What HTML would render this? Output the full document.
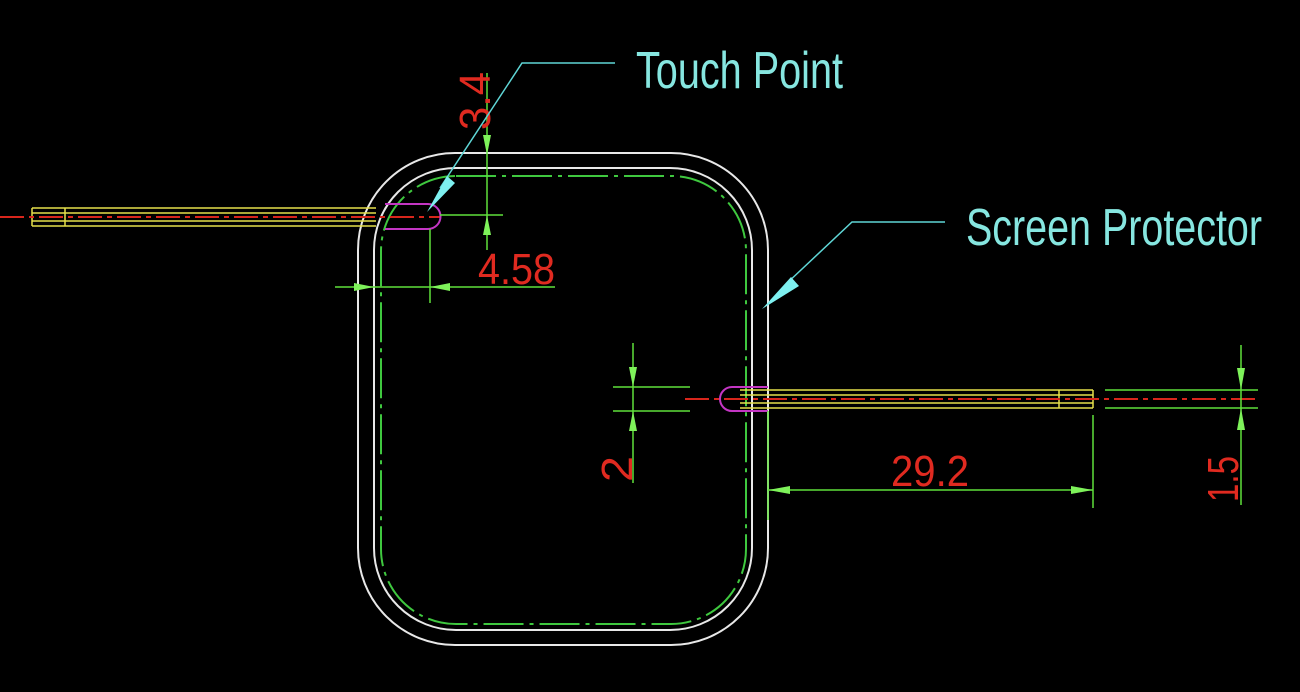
<!DOCTYPE html>
<html><head><style>html,body{margin:0;padding:0;background:#000;}svg{display:block}</style></head>
<body>
<svg width="1300" height="692" viewBox="0 0 1300 692" xmlns="http://www.w3.org/2000/svg">
<rect width="1300" height="692" fill="#000"/>
<!-- watch body -->
<rect x="358" y="153" width="410" height="492" rx="97" ry="97" fill="none" stroke="#e8e8e8" stroke-width="2"/>
<rect x="374" y="168" width="378" height="462" rx="82" ry="82" fill="none" stroke="#e8e8e8" stroke-width="2"/>
<rect x="381" y="176" width="365" height="448" rx="75" ry="75" fill="none" stroke="#3fc83f" stroke-width="2" stroke-dasharray="40 6 4 6"/>
<!-- left strap -->
<g stroke="#e6e04a" stroke-width="1.5" fill="none">
<line x1="32" y1="208" x2="376" y2="208"/><line x1="32" y1="213" x2="376" y2="213"/>
<line x1="32" y1="221" x2="376" y2="221"/><line x1="32" y1="226" x2="376" y2="226"/>
<line x1="32" y1="208" x2="32" y2="226"/><line x1="65" y1="208" x2="65" y2="226"/>
</g>
<line x1="0" y1="217" x2="440" y2="217" stroke="#d8261c" stroke-width="2" stroke-dasharray="24 5 5 5"/>
<path d="M385 204 H428 A12.5 12.5 0 0 1 428 229 H385" fill="none" stroke="#c436c4" stroke-width="2"/>
<!-- right strap -->
<g stroke="#e6e04a" stroke-width="1.5" fill="none">
<line x1="740" y1="390" x2="1093" y2="390"/><line x1="740" y1="395" x2="1093" y2="395"/>
<line x1="740" y1="403" x2="1093" y2="403"/><line x1="740" y1="408" x2="1093" y2="408"/>
<line x1="1093" y1="390" x2="1093" y2="408"/><line x1="1059" y1="390" x2="1059" y2="408"/>
</g>
<line x1="685" y1="399" x2="1258" y2="399" stroke="#d8261c" stroke-width="2" stroke-dasharray="24 5 5 5"/>
<path d="M768 387 H732 A12 12 0 0 0 732 411 H768" fill="none" stroke="#c436c4" stroke-width="2"/>
<!-- dimensions green -->
<g stroke="#5fe03a" stroke-width="1.5" fill="none">
<line x1="487" y1="73" x2="487" y2="250"/>
<line x1="440" y1="215" x2="503" y2="215"/>
<line x1="335" y1="287" x2="555" y2="287"/>
<line x1="430" y1="229" x2="430" y2="303"/>
<line x1="633" y1="343" x2="633" y2="483"/>
<line x1="613" y1="387" x2="690" y2="387"/><line x1="613" y1="411" x2="690" y2="411"/>
<line x1="768" y1="411" x2="768" y2="520"/>
<line x1="1093" y1="415" x2="1093" y2="508"/>
<line x1="768" y1="490" x2="1093" y2="490"/>
<line x1="1241" y1="345" x2="1241" y2="505"/>
<line x1="1105" y1="390" x2="1258" y2="390"/><line x1="1105" y1="408" x2="1258" y2="408"/>
</g>
<g fill="#7ef25a">
<polygon points="487,155 483,135 491,135"/>
<polygon points="487,215 483,235 491,235"/>
<polygon points="374,287 354,283 354,291"/>
<polygon points="430,287 450,283 450,291"/>
<polygon points="633,387 629,367 637,367"/>
<polygon points="633,411 629,431 637,431"/>
<polygon points="768,490 790,486 790,494"/>
<polygon points="1093,490 1071,486 1071,494"/>
<polygon points="1241,390 1237,368 1245,368"/>
<polygon points="1241,408 1237,430 1245,430"/>
</g>
<!-- dimension texts -->
<g fill="none" stroke="#e02a20" stroke-width="1.4" font-family="'Liberation Sans Narrow','Liberation Sans',sans-serif" font-size="40">
</g>
<g fill="#e02a20" font-family="'Liberation Sans Narrow','Liberation Sans',sans-serif" font-size="44" font-weight="normal">
<text x="0" y="0" transform="translate(490,130) rotate(-90)" textLength="58" lengthAdjust="spacingAndGlyphs">3.4</text>
<text x="478" y="284" textLength="77" lengthAdjust="spacingAndGlyphs">4.58</text>
<text x="0" y="0" transform="translate(632,482) rotate(-90)" textLength="26" lengthAdjust="spacingAndGlyphs">2</text>
<text x="891" y="486" textLength="78" lengthAdjust="spacingAndGlyphs">29.2</text>
<text x="0" y="0" transform="translate(1238,502) rotate(-90)" textLength="46" lengthAdjust="spacingAndGlyphs">1.5</text>
</g>
<!-- leaders -->
<g stroke="#5fd6d6" stroke-width="1.5" fill="none">
<polyline points="615,63 522,63 440,188"/>
<polyline points="945,222 852,222 785,285"/>
</g>
<g fill="#7ef0f0">
<polygon points="427,212 447,176 455,183"/>
<polygon points="762,309 791,277 799,286"/>
</g>
<g fill="#86e6e0" font-family="'Liberation Sans Narrow','Liberation Sans',sans-serif" font-size="52">
<text x="636" y="88" textLength="207" lengthAdjust="spacingAndGlyphs">Touch Point</text>
<text x="966" y="245" textLength="296" lengthAdjust="spacingAndGlyphs">Screen Protector</text>
</g>
</svg>
</body></html>
